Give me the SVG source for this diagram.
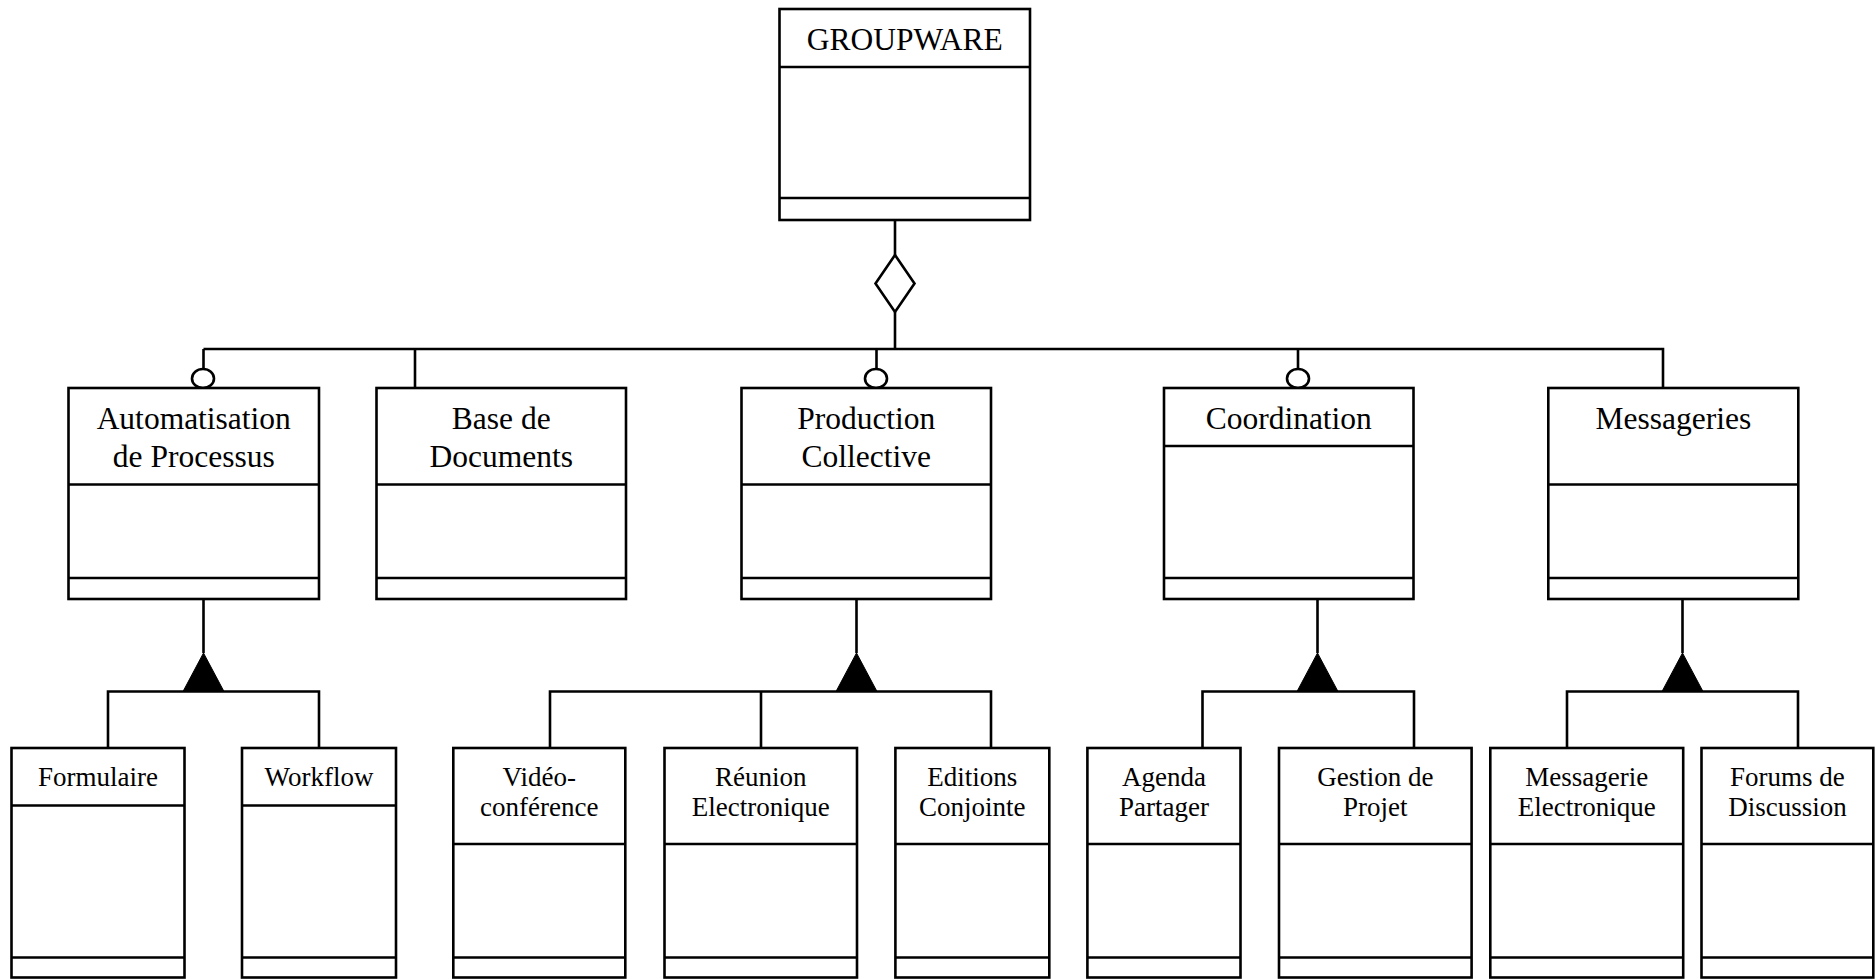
<svg xmlns="http://www.w3.org/2000/svg" width="1876" height="979" viewBox="0 0 1876 979">
<style>
.box{fill:#fff;stroke:#000;stroke-width:2.6}
.ln{fill:none;stroke:#000;stroke-width:2.6}
.t1{font-family:"Liberation Serif","Times New Roman",serif;font-size:31.5px;text-anchor:middle;fill:#000}
.t2{font-family:"Liberation Serif","Times New Roman",serif;font-size:27px;text-anchor:middle;fill:#000}
.open{fill:#fff;stroke:#000;stroke-width:2.6}
.tri{fill:#000;stroke:#000;stroke-width:1}
</style>
<rect width="1876" height="979" fill="#fff"/>
<g id="connectors">
  <!-- aggregation from GROUPWARE -->
  <path class="ln" d="M895 220V255M895 312V349"/>
  <polygon class="open" points="895,255 914.5,283.5 895,312 875.5,283.5"/>
  <path class="ln" d="M203.5 349H1663V388M203.5 349V369M415 349V388M876.5 349V369M1298 349V369"/>
  <ellipse class="open" cx="203" cy="378.5" rx="11" ry="9.5"/>
  <ellipse class="open" cx="876" cy="378.5" rx="11" ry="9.5"/>
  <ellipse class="open" cx="1298" cy="378.5" rx="11" ry="9.5"/>
  <!-- generalization: Automatisation -->
  <path class="ln" d="M203.5 599V653M108 748V691.5H319V748"/>
  <polygon class="tri" points="203.5,653 224,691.5 183,691.5"/>
  <!-- generalization: Production -->
  <path class="ln" d="M856.5 599V653M550 748V691.5H991V748M761 691.5V748"/>
  <polygon class="tri" points="856.5,653 877,691.5 836,691.5"/>
  <!-- generalization: Coordination -->
  <path class="ln" d="M1317.5 599V653M1202.5 748V691.5H1414V748"/>
  <polygon class="tri" points="1317.5,653 1338,691.5 1297,691.5"/>
  <!-- generalization: Messageries -->
  <path class="ln" d="M1682.5 599V653M1567 748V691.5H1798V748"/>
  <polygon class="tri" points="1682.5,653 1703,691.5 1662,691.5"/>
</g>
<g id="groupware">
  <rect class="box" x="779.5" y="9" width="250.5" height="211"/>
  <path class="ln" d="M779.5 67H1030M779.5 198H1030"/>
  <text class="t1" x="904.75" y="50">GROUPWARE</text>
</g>
<g id="automatisation">
  <rect class="box" x="68.5" y="388" width="250.5" height="211"/>
  <path class="ln" d="M68.5 484.5H319M68.5 578H319"/>
  <text class="t1" x="193.75" y="429">Automatisation</text>
  <text class="t1" x="193.75" y="467">de Processus</text>
</g>
<g id="base-documents">
  <rect class="box" x="376.5" y="388" width="249.5" height="211"/>
  <path class="ln" d="M376.5 484.5H626M376.5 578H626"/>
  <text class="t1" x="501.25" y="429">Base de</text>
  <text class="t1" x="501.25" y="467">Documents</text>
</g>
<g id="production">
  <rect class="box" x="741.5" y="388" width="249.5" height="211"/>
  <path class="ln" d="M741.5 484.5H991M741.5 578H991"/>
  <text class="t1" x="866.25" y="429">Production</text>
  <text class="t1" x="866.25" y="467">Collective</text>
</g>
<g id="coordination">
  <rect class="box" x="1164" y="388" width="249.5" height="211"/>
  <path class="ln" d="M1164 446H1413.5M1164 578H1413.5"/>
  <text class="t1" x="1288.75" y="429">Coordination</text>
</g>
<g id="messageries">
  <rect class="box" x="1548.3" y="388" width="250" height="211"/>
  <path class="ln" d="M1548.3 484.5H1798.3M1548.3 578H1798.3"/>
  <text class="t1" x="1673.3" y="429">Messageries</text>
</g>
<g id="formulaire">
  <rect class="box" x="11.5" y="748" width="173" height="229.5"/>
  <path class="ln" d="M11.5 805.5H184.5M11.5 957.5H184.5"/>
  <text class="t2" x="98" y="786">Formulaire</text>
</g>
<g id="workflow">
  <rect class="box" x="242" y="748" width="154" height="229.5"/>
  <path class="ln" d="M242 805.5H396M242 957.5H396"/>
  <text class="t2" x="319" y="786">Workflow</text>
</g>
<g id="videoconference">
  <rect class="box" x="453.3" y="748" width="172" height="229.5"/>
  <path class="ln" d="M453.3 844H625.3M453.3 957.5H625.3"/>
  <text class="t2" x="539.3" y="786">Vidéo-</text>
  <text class="t2" x="539.3" y="816">conférence</text>
</g>
<g id="reunion">
  <rect class="box" x="664.5" y="748" width="192.5" height="229.5"/>
  <path class="ln" d="M664.5 844H857M664.5 957.5H857"/>
  <text class="t2" x="760.75" y="786">Réunion</text>
  <text class="t2" x="760.75" y="816">Electronique</text>
</g>
<g id="editions">
  <rect class="box" x="895.4" y="748" width="153.9" height="229.5"/>
  <path class="ln" d="M895.4 844H1049.3M895.4 957.5H1049.3"/>
  <text class="t2" x="972.35" y="786">Editions</text>
  <text class="t2" x="972.35" y="816">Conjointe</text>
</g>
<g id="agenda">
  <rect class="box" x="1087.4" y="748" width="153.1" height="229.5"/>
  <path class="ln" d="M1087.4 844H1240.5M1087.4 957.5H1240.5"/>
  <text class="t2" x="1164" y="786">Agenda</text>
  <text class="t2" x="1164" y="816">Partager</text>
</g>
<g id="gestion">
  <rect class="box" x="1279" y="748" width="192.6" height="229.5"/>
  <path class="ln" d="M1279 844H1471.6M1279 957.5H1471.6"/>
  <text class="t2" x="1375.3" y="786">Gestion de</text>
  <text class="t2" x="1375.3" y="816">Projet</text>
</g>
<g id="messagerie-electronique">
  <rect class="box" x="1490.3" y="748" width="192.9" height="229.5"/>
  <path class="ln" d="M1490.3 844H1683.2M1490.3 957.5H1683.2"/>
  <text class="t2" x="1586.75" y="786">Messagerie</text>
  <text class="t2" x="1586.75" y="816">Electronique</text>
</g>
<g id="forums">
  <rect class="box" x="1701.5" y="748" width="171.8" height="229.5"/>
  <path class="ln" d="M1701.5 844H1873.3M1701.5 957.5H1873.3"/>
  <text class="t2" x="1787.4" y="786">Forums de</text>
  <text class="t2" x="1787.4" y="816">Discussion</text>
</g>
</svg>
